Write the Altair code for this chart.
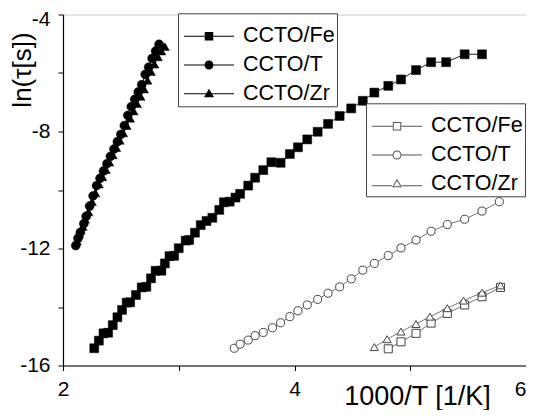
import altair as alt
import pandas as pd

series_names = ["CCTO/Fe", "CCTO/T", "CCTO/Zr"]

# filled symbols (upper group)
fe_f_x = [2.27, 2.31, 2.35, 2.39, 2.43, 2.47, 2.51, 2.55, 2.58, 2.63, 2.68, 2.72, 2.76, 2.80, 2.85,
          2.88, 2.92, 2.96, 3.00, 3.06, 3.09, 3.14, 3.19, 3.24, 3.29, 3.35, 3.39, 3.44, 3.49, 3.53,
          3.60, 3.66, 3.73, 3.80, 3.88, 3.96, 4.03, 4.11, 4.20, 4.29, 4.39, 4.49, 4.59, 4.69, 4.81,
          4.92, 5.05, 5.18, 5.31, 5.47, 5.62]
fe_f_y = [-15.41, -15.15, -14.90, -14.88, -14.62, -14.35, -14.10, -13.85, -13.84, -13.59, -13.33, -13.31,
          -13.02, -12.76, -12.76, -12.51, -12.26, -12.25, -11.99, -11.73, -11.71, -11.46, -11.20, -11.06,
          -10.95, -10.68, -10.42, -10.40, -10.26, -10.13, -9.85, -9.58, -9.32, -9.05, -9.07, -8.77, -8.54,
          -8.27, -8.01, -7.74, -7.47, -7.21, -6.95, -6.67, -6.44, -6.22, -5.90, -5.63, -5.63, -5.36, -5.36]

t_f_x = [2.11, 2.13, 2.15, 2.18, 2.20, 2.23, 2.26, 2.29, 2.32, 2.35, 2.38, 2.41, 2.44, 2.47, 2.50,
         2.53, 2.56, 2.59, 2.62, 2.65, 2.68, 2.71, 2.74, 2.77, 2.80, 2.83]
t_f_y = [-11.90, -11.65, -11.45, -11.15, -10.90, -10.55, -10.20, -9.85, -9.60, -9.35, -9.10, -8.85,
         -8.60, -8.35, -8.10, -7.80, -7.45, -7.15, -6.90, -6.65, -6.40, -6.05, -5.80, -5.50, -5.25, -5.02]

zr_f_x = [2.12, 2.14, 2.17, 2.19, 2.22, 2.25, 2.28, 2.31, 2.34, 2.37, 2.40, 2.43, 2.46, 2.49, 2.52,
          2.55, 2.58, 2.61, 2.64, 2.67, 2.70, 2.73, 2.76, 2.79, 2.82, 2.85, 2.88]
zr_f_y = [-11.75, -11.50, -11.25, -11.00, -10.75, -10.40, -10.10, -9.80, -9.55, -9.30, -9.05, -8.80,
          -8.55, -8.30, -8.05, -7.80, -7.55, -7.30, -7.05, -6.80, -6.55, -6.25, -5.95, -5.70, -5.45,
          -5.25, -5.10]

# open symbols (lower group)
fe_o_x = [4.81, 4.92, 5.05, 5.18, 5.32, 5.47, 5.62, 5.78]
fe_o_y = [-15.43, -15.19, -14.90, -14.55, -14.22, -13.93, -13.65, -13.33]

t_o_x = [3.48, 3.53, 3.60, 3.66, 3.73, 3.81, 3.88, 3.96, 4.03, 4.11, 4.20, 4.29, 4.39, 4.49, 4.59,
         4.69, 4.81, 4.92, 5.05, 5.18, 5.32, 5.47, 5.62, 5.77]
t_o_y = [-15.41, -15.27, -15.13, -14.98, -14.87, -14.71, -14.54, -14.33, -14.13, -13.93, -13.74, -13.53,
         -13.31, -13.04, -12.74, -12.51, -12.24, -11.98, -11.71, -11.41, -11.18, -11.00, -10.72, -10.40]

zr_o_x = [4.69, 4.80, 4.92, 5.05, 5.17, 5.32, 5.46, 5.62, 5.78]
zr_o_y = [-15.37, -15.10, -14.84, -14.58, -14.33, -14.04, -13.78, -13.51, -13.26]


def frame(xs, ys, name, kind):
    return pd.DataFrame({"x": xs, "y": ys, "series": name, "kind": kind})


df = pd.concat([
    frame(fe_f_x, fe_f_y, "CCTO/Fe", "filled"),
    frame(t_f_x, t_f_y, "CCTO/T", "filled"),
    frame(zr_f_x, zr_f_y, "CCTO/Zr", "filled"),
    frame(fe_o_x, fe_o_y, "CCTO/Fe", "open"),
    frame(t_o_x, t_o_y, "CCTO/T", "open"),
    frame(zr_o_x, zr_o_y, "CCTO/Zr", "open"),
], ignore_index=True)

FONT = "Liberation Sans"

xenc = alt.X("x:Q", scale=alt.Scale(domain=[2, 6], nice=False, zero=False),
             axis=alt.Axis(values=[2, 3, 4, 5, 6],
                           labelExpr="datum.value % 2 == 0 ? '' + datum.value : ''",
                           labelAlign={"condition": {"test": "datum.value == 6", "value": "right"},
                                       "value": "center"},
                           title="1000/T [1/K]", grid=False, tickSize=5, labelPadding=8,
                           labelFontSize=21, titleFontSize=27, titleX=354, titleY=38.5,
                           titleAlign="center", titleBaseline="alphabetic"))
yenc = alt.Y("y:Q", scale=alt.Scale(domain=[-16, -4], nice=False, zero=False),
             axis=alt.Axis(values=[-16, -14, -12, -10, -8, -6, -4],
                           labelExpr="datum.value % 4 == 0 ? '' + datum.value : ''",
                           labelOffset={"condition": {"test": "datum.value == -4", "value": 5},
                                        "value": 0},
                           title="ln(τ[s])", grid=False, tickSize=5, labelPadding=8,
                           labelFontSize=21, titleFontSize=26, titleAngle=270, titleX=-27.5,
                           titleY=55, titleAlign="center", titleBaseline="bottom"))

base = alt.Chart(df)

line_f = base.transform_filter("datum.kind == 'filled'").mark_line(
    color="#222222", strokeWidth=1).encode(x=xenc, y=yenc, detail="series:N")
pts_f = base.transform_filter("datum.kind == 'filled'").mark_point(
    filled=True, fill="black", stroke="black", strokeWidth=0.5, opacity=1, size=80).encode(
    x=xenc, y=yenc,
    shape=alt.Shape("series:N", scale=alt.Scale(domain=series_names,
                                                 range=["square", "circle", "triangle-up"]),
                    legend=None))
line_o = base.transform_filter("datum.kind == 'open'").mark_line(
    color="#777777", strokeWidth=1).encode(x=xenc, y=yenc, detail="series:N")
pts_o = base.transform_filter("datum.kind == 'open'").mark_point(
    filled=False, fill="white", stroke="#444444", strokeWidth=1, opacity=1, size=65).encode(
    x=xenc, y=yenc,
    shape=alt.Shape("series:N", scale=alt.Scale(domain=series_names,
                                                 range=["square", "circle", "triangle-up"]),
                    legend=None))

# legend glyphs: a thin line with the marker, drawn as filled shapes (unit box -1..1)
LINE_THROUGH = "M-1,-0.02H1V0.02H-1Z"
LINE_SPLIT = "M-1,-0.02H-0.18V0.02H-1ZM0.18,-0.02H1V0.02H0.18Z"
leg_paths_filled = [
    LINE_THROUGH + "M-0.17,-0.17H0.17V0.17H-0.17Z",
    LINE_THROUGH + "M0.18,0A0.18,0.18,0,1,1,-0.18,0A0.18,0.18,0,1,1,0.18,0Z",
    LINE_THROUGH + "M0,-0.2L0.2,0.14L-0.2,0.14Z",
]
leg_paths_open = [
    LINE_SPLIT + "M-0.17,-0.17H0.17V0.17H-0.17ZM-0.13,-0.13V0.13H0.13V-0.13Z",
    LINE_SPLIT + "M0.18,0A0.18,0.18,0,1,1,-0.18,0A0.18,0.18,0,1,1,0.18,0Z"
                 "M0.14,0A0.14,0.14,0,1,0,-0.14,0A0.14,0.14,0,1,0,0.14,0Z",
    "M-1,0.06H-0.2V0.1H-1ZM0.2,0.06H1V0.1H0.2Z"
    "M0,-0.2L0.2,0.14L-0.2,0.14ZM0,-0.12L-0.13,0.10L0.13,0.10Z",
]


def legend(x, y, fill):
    return alt.Legend(orient="none", legendX=x, legendY=y, direction="vertical",
                      title=" ", titleFontSize=11, titlePadding=0,
                      padding=2, strokeColor="#444444", fillColor="white", cornerRadius=0,
                      clipHeight=20, rowPadding=6.7, symbolSize=2500, symbolOffset=4,
                      symbolStrokeWidth=0, symbolFillColor=fill, symbolStrokeColor=fill,
                      labelFont=FONT, labelFontSize=21.5, labelColor="black", labelOffset=9)


names_df = pd.DataFrame({"series": series_names})
leg1 = alt.Chart(names_df).transform_filter("false").mark_point(
    filled=True, color="black", opacity=1).encode(
    shape=alt.Shape("series:N", scale=alt.Scale(domain=series_names, range=leg_paths_filled),
                    legend=legend(115, -1.2, "black")))
leg2 = alt.Chart(names_df).transform_filter("false").mark_point(
    filled=True, color="#555555", opacity=1).encode(
    shape=alt.Shape("series:N", scale=alt.Scale(domain=series_names, range=leg_paths_open),
                    legend=legend(303, 88.8, "#555555")))

chart = alt.layer(line_f, pts_f, line_o, pts_o, leg1, leg2).resolve_scale(
    shape="independent"
).properties(
    width=463, height=351,
    padding={"left": 55, "top": 6.5, "right": 0, "bottom": 44},
    autosize=alt.AutoSizeParams(type="none"),
).configure_view(stroke="#cccccc", strokeWidth=1).configure_axis(
    domainColor="black", domainWidth=1.2, tickColor="black", tickWidth=1,
    labelColor="black", titleColor="black", labelFont=FONT, titleFont=FONT,
    titleFontWeight="normal",
)

chart.save("out.html", embed_options={"renderer": "svg", "actions": False})
